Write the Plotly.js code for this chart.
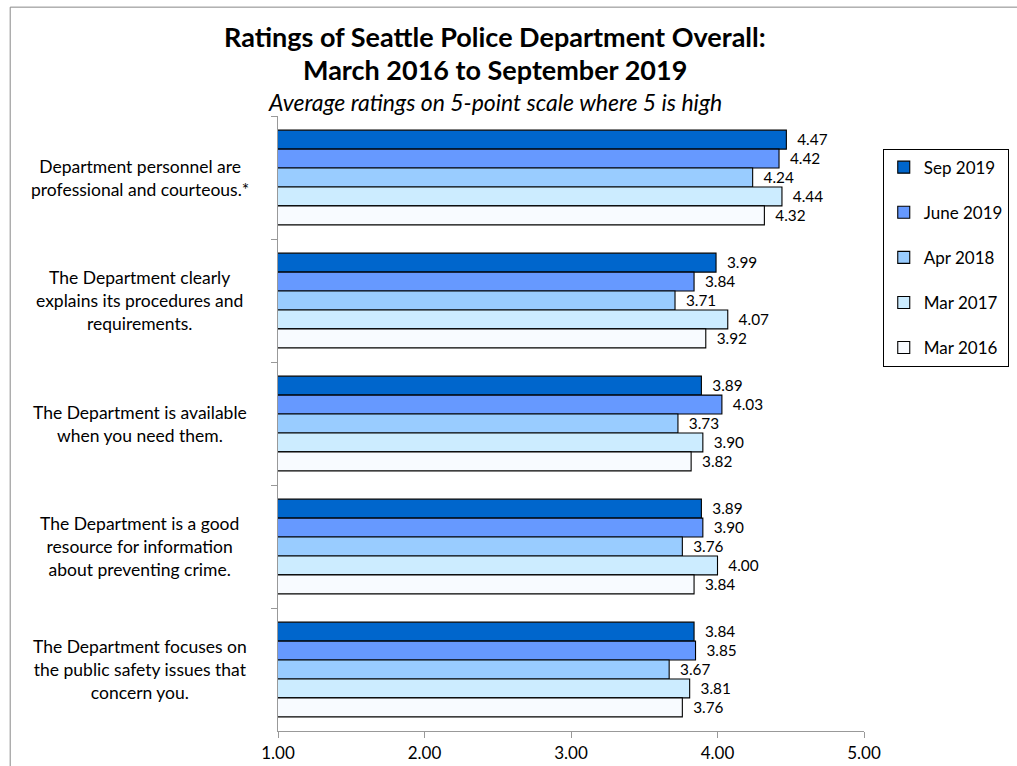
<!DOCTYPE html>
<html>
<head>
<meta charset="utf-8">
<script src="https://cdn.plot.ly/plotly-3.0.1.min.js"></script>
<style>html,body{margin:0;padding:0;background:#fff;} #chart{width:1017px;height:766px;}</style>
</head>
<body>
<div id="chart"></div>
<script>
const categories = [
  "Department personnel are<br>professional and courteous.*",
  "The Department clearly<br>explains its procedures and<br>requirements.",
  "The Department is available<br>when you need them.",
  "The Department is a good<br>resource for information<br>about preventing crime.",
  "The Department focuses on<br>the public safety issues that<br>concern you."
];
const seriesNames = ["Sep 2019", "June 2019", "Apr 2018", "Mar 2017", "Mar 2016"];
const sep2019  = [4.47, 3.99, 3.89, 3.89, 3.84];
const jun2019  = [4.42, 3.84, 4.03, 3.90, 3.85];
const apr2018  = [4.24, 3.71, 3.73, 3.76, 3.67];
const mar2017  = [4.44, 4.07, 3.90, 4.00, 3.81];
const mar2016  = [4.32, 3.92, 3.82, 3.84, 3.76];
const xTicks = [1, 2, 3, 4, 5];

const seriesValues = [sep2019, jun2019, apr2018, mar2017, mar2016];
const colors = ["#0066CC", "#6699FF", "#99CCFF", "#CCECFF", "#F8FBFF"];
const catIds = categories.map((c, i) => "c" + i);

const font = "Lato, 'Open Sans', sans-serif";

const traces = seriesValues.map((vals, i) => ({
  type: "bar",
  orientation: "h",
  name: seriesNames[i],
  legendgroup: "g" + i,
  y: catIds,
  x: vals,
  text: vals.map(v => "\u00a0\u00a0" + v.toFixed(2)),
  textposition: "outside",
  cliponaxis: false,
  textfont: {family: font, size: 17, color: "#000"},
  marker: {color: colors[i], line: {color: "#000", width: 1.1}},
  hoverinfo: "x+name"
}));

const annotations = categories.map((c, i) => ({
  xref: "paper", yref: "y", x: -0.236, y: catIds[i],
  text: c, showarrow: false, xanchor: "center", yanchor: "middle", align: "center",
  font: {family: font, size: 17.5, color: "#000"}
}));
annotations.push({
  xref: "paper", yref: "paper", x: 0.3695, y: 1.130, xanchor: "center", yanchor: "middle",
  text: "<b>Ratings of Seattle Police Department Overall:</b>", showarrow: false,
  font: {family: font, size: 27, color: "#000"}
});
annotations.push({
  xref: "paper", yref: "paper", x: 0.3695, y: 1.0764, xanchor: "center", yanchor: "middle",
  text: "<b>March 2016 to September 2019</b>", showarrow: false,
  font: {family: font, size: 27, color: "#000"}
});
annotations.push({
  xref: "paper", yref: "paper", x: 0.3695, y: 1.0228, xanchor: "center", yanchor: "middle",
  text: "<i>Average ratings on 5-point scale where 5 is high</i>", showarrow: false,
  font: {family: font, size: 23, color: "#000"}
});

const layout = {
  width: 1017, height: 766,
  margin: {l: 278, r: 153, t: 116, b: 35, autoexpand: false},
  paper_bgcolor: "#fff", plot_bgcolor: "#fff",
  barmode: "group", bargap: 0.23, bargroupgap: 0,
  showlegend: true,
  legend: {
    x: 1.032, y: 0.947, xanchor: "left", yanchor: "top",
    bordercolor: "#000", borderwidth: 1, bgcolor: "#fff",
    traceorder: "grouped", tracegroupgap: 20,
    font: {family: font, size: 17, color: "#000"}
  },
  xaxis: {
    range: [1, 5], tickvals: xTicks, tickformat: ".2f",
    showgrid: false, zeroline: false,
    showline: true, linecolor: "#999", linewidth: 1,
    ticks: "outside", ticklen: 6, tickcolor: "#999",
    ticklabelstandoff: 1,
    tickfont: {family: font, size: 17, color: "#000"}
  },
  yaxis: {
    type: "category", autorange: "reversed",
    showticklabels: false, showgrid: false, zeroline: false,
    showline: true, linecolor: "#999", linewidth: 1,
    ticks: "outside", tickson: "boundaries", ticklen: 6, tickcolor: "#999"
  },
  annotations: annotations,
  shapes: [
    {type: "line", xref: "paper", yref: "paper", x0: -0.457, x1: -0.457, y0: -0.1, y1: 1.177, line: {color: "#888", width: 1}},
    {type: "line", xref: "paper", yref: "paper", x0: -0.457, x1: 1.3, y0: 1.177, y1: 1.177, line: {color: "#888", width: 1}}
  ]
};

Plotly.newPlot("chart", traces, layout, {displayModeBar: false, staticPlot: true});
</script>
</body>
</html>
